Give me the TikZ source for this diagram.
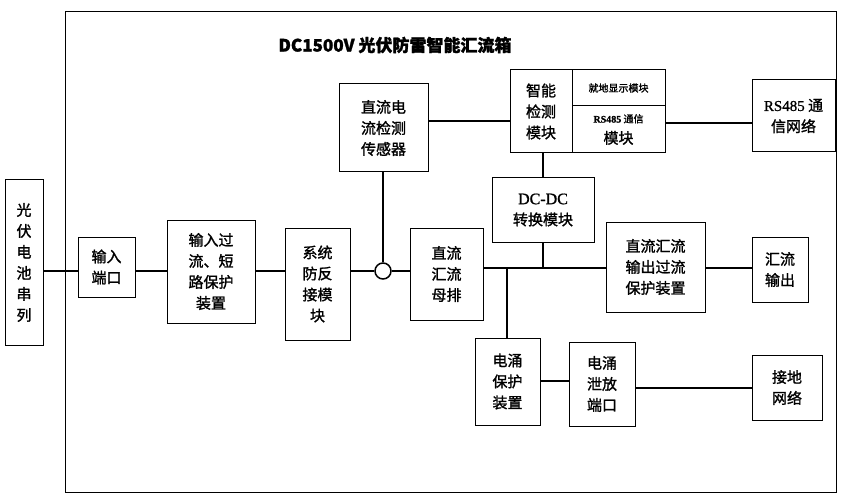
\documentclass[tikz,border=0pt]{standalone}
\usepackage{fontspec}
\newfontfamily\cjk[FakeBold=1.5]{Noto Sans CJK SC}
\newfontfamily\lat[FakeBold=1]{Liberation Serif}
\begin{document}
\begin{tikzpicture}[x=1pt,y=-1pt,
  bx/.style={draw,line width=1pt,inner sep=0pt,align=center,font=\cjk\fontsize{15}{21}\selectfont},
  ln/.style={line width=2.2pt}]
\useasboundingbox (0,0) rectangle (852,500);
\newcommand\bx[6]{\node[bx,minimum width=#4-#2,minimum height=#5-#3] (#1) at ({(#2+#4)/2},{(#3+#5)/2}) {#6};}
\draw[line width=1pt] (65,12) rectangle (836,492);
\node[font=\cjk\bfseries\fontsize{17}{20}\selectfont] (title) at (395,45) {DC1500V 光伏防雷智能汇流箱};
\bx{pv}{5}{180}{43}{345}{光\\伏\\电\\池\\串\\列}
\bx{in}{78}{237}{135}{297}{输入\\端口}
\bx{ovp}{167}{220}{255}{323}{输入过\\流、短\\路保护\\装置}
\bx{anti}{285}{228}{350}{340}{系统\\防反\\接模\\块}
\bx{sens}{339}{84}{428}{172}{直流电\\流检测\\传感器}
\bx{bus}{410}{228}{483}{320}{直流\\汇流\\母排}
\bx{smart}{510}{70}{572}{153}{智能\\检测\\模块}
\bx{disp}{572}{70}{665}{106}{\fontsize{10}{12}\selectfont 就地显示模块}
\bx{rs}{572}{106}{665}{153}{\fontsize{10}{22}\selectfont{\lat\bfseries RS485} 通信\\模块}
\bx{dcdc}{492}{178}{594}{242}{{\lat\fontsize{16}{21}\selectfont DC-DC}\\转换模块}
\bx{outp}{606}{222}{705}{312}{直流汇流\\输出过流\\保护装置}
\bx{net}{752}{80}{835}{152}{{\lat RS485} 通\\信网络}
\bx{out}{752}{237}{808}{302}{汇流\\输出}
\bx{gnd}{752}{355}{822}{420}{接地\\网络}
\bx{spd}{475}{338}{540}{425}{电涌\\保护\\装置}
\bx{rel}{569}{342}{635}{426}{电涌\\泄放\\端口}
\node[draw,circle,line width=1.5pt,minimum size=16pt,inner sep=0pt] (ring) at (383,271) {};
\coordinate (j1) at (543,268);
\coordinate (j2) at (507,268);
\draw[ln] (pv.east|-0,271) -- (in.west|-0,271);
\draw[ln] (in.east|-0,271) -- (ovp.west|-0,271);
\draw[ln] (ovp.east|-0,271) -- (anti.west|-0,271);
\draw[ln] (anti.east|-0,271) -- (ring.west);
\draw[ln] (ring.east) -- (bus.west|-0,271);
\draw[ln] (sens.south-|ring) -- (ring.north);
\draw[ln] (sens.east|-0,121) -- (smart.west|-0,121);
\draw[ln] (bus.east|-0,268) -- (outp.west|-0,268);
\draw[ln] (smart.south-|j1) -- (dcdc.north-|j1);
\draw[ln] (dcdc.south-|j1) -- (j1);
\draw[ln] (j2) -- (spd.north-|j2);
\draw[ln] (rs.east|-0,123) -- (net.west|-0,123);
\draw[ln] (outp.east|-0,268) -- (out.west|-0,268);
\draw[ln] (spd.east|-0,381) -- (rel.west|-0,381);
\draw[ln] (rel.east|-0,388) -- (gnd.west|-0,388);
\end{tikzpicture}
\end{document}
